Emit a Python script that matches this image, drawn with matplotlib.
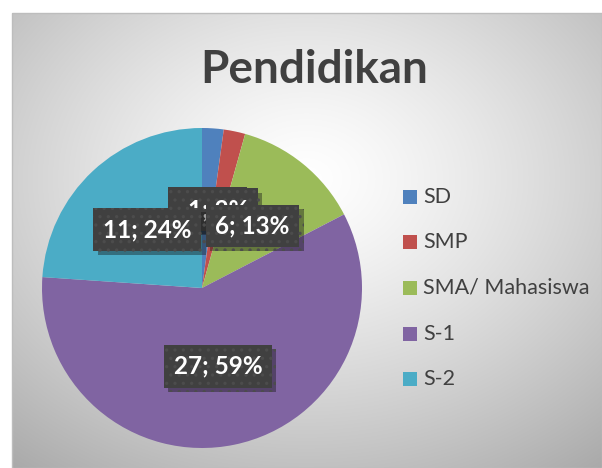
import numpy as np
from matplotlib import pyplot as plt
from matplotlib.patches import Rectangle
import matplotlib.patheffects as pe

plt.rcParams['font.family'] = ['Lato', 'DejaVu Sans']
plt.rcParams['hatch.linewidth'] = 1.2

categories = ['SD', 'SMP', 'SMA/ Mahasiswa', 'S-1', 'S-2']
counts = [1, 1, 6, 27, 11]
colors = ['#4F81BD', '#C0504D', '#9BBB59', '#8064A2', '#4BACC6']

W, H = 602, 468
fig = plt.figure(figsize=(W / 100, H / 100), dpi=100)

# background with radial gradient (chart area)
bg = fig.add_axes([0, 0, 1, 1])
bg.set_xlim(0, W)
bg.set_ylim(H, 0)
bg.axis('off')
yy, xx = np.mgrid[0:H, 0:W]
d = np.sqrt(((xx - 300) / 420.0) ** 2 + ((yy - 170) / 330.0) ** 2)
shade = np.clip(1.0 - 0.28 * d ** 1.3, 0, 1)
img = np.dstack([shade, shade, shade])
bg.imshow(img, extent=(12, W, H, 13), aspect='auto', zorder=0)
bg.add_patch(Rectangle((12, 13), W - 12, H - 13, fill=False, edgecolor='#bdbdbd', lw=1, zorder=1))

fig.text(314 / W, 1 - 70 / H, 'Pendidikan', ha='center', va='center',
         fontsize=33, fontweight='bold', color='#404040')

# pie
cx, cy, r = 202, 288, 160
ax = fig.add_axes([(cx - r) / W, (H - cy - r) / H, 2 * r / W, 2 * r / H])
total = sum(counts)

def fmt(p):
    n = int(round(p * total / 100.0))
    return f'{n}; {p:.0f}%'

_, _, autotexts = ax.pie(counts, colors=colors, startangle=90, counterclock=False,
                         wedgeprops=dict(linewidth=0), radius=1, autopct=fmt,
                         pctdistance=0.5)
for t in autotexts:
    t.set_color('white')
    t.set_fontsize(17.5)
    t.set_fontweight('bold')
    t.set_bbox(dict(boxstyle='square,pad=0.4', facecolor='#404040', edgecolor='#4c4c4c',
                    linewidth=0, hatch='..',
                    path_effects=[pe.SimplePatchShadow(offset=(3, -3), alpha=0.4), pe.Normal()]))
ax.set_xlim(-1, 1)
ax.set_ylim(-1, 1)
ax.set_aspect('equal')
ax.axis('off')

# legend
leg_y = [197, 242, 288, 334, 379]
for name, c, y in zip(categories, colors, leg_y):
    bg.add_patch(Rectangle((403, y - 7), 14, 14, facecolor=c, edgecolor='none', zorder=3))
    bg.text(423, y, name, ha='left', va='center', fontsize=15.5, color='#404040', zorder=3)

fig.savefig('out.png', dpi=100)
